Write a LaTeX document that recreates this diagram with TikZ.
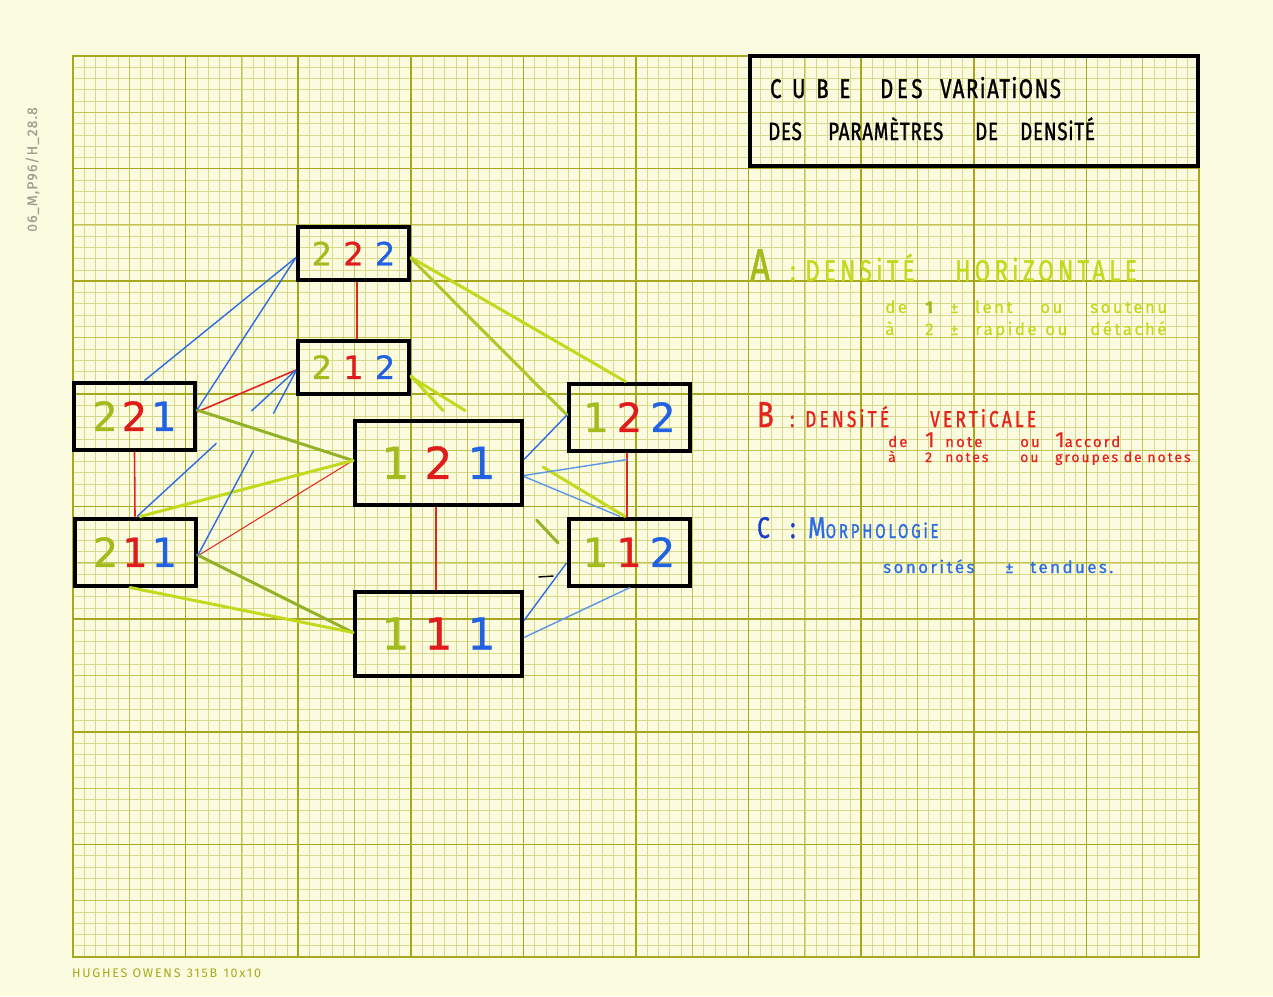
\documentclass[tikz,border=0pt]{standalone}
\usepackage{fontspec}
\usetikzlibrary{calc}
\setmainfont{Fira Sans}
\newfontfamily\handfont[FakeStretch=0.75,LetterSpace=14,FakeBold=1.2]{Fira Sans}
\newfontfamily\notefont[LetterSpace=14,FakeBold=0.5]{Fira Sans}
\newfontfamily\digitfont[FakeBold=0.8]{DejaVu Sans}
\newfontfamily\printfont[LetterSpace=14]{Fira Sans}

\definecolor{paper}{HTML}{FBFBE0}
\definecolor{gridminor}{HTML}{D9D98C}
\definecolor{gridmid}{HTML}{C4C454}
\definecolor{gridmajor}{HTML}{A8A820}
\definecolor{digA}{HTML}{A2BC1E}
\definecolor{digB}{HTML}{DF1B1B}
\definecolor{digC}{HTML}{2262E2}
\definecolor{penyellow}{HTML}{C3D91E}
\definecolor{penmid}{HTML}{AEC82A}
\definecolor{pengreen}{HTML}{94B228}
\definecolor{penred}{HTML}{E4231F}
\definecolor{penblue}{HTML}{2C6CE0}
\definecolor{penlight}{HTML}{5A96E8}
\definecolor{pendark}{HTML}{1B3FCC}
\definecolor{pencil}{HTML}{9E9E92}

% three coloured digits of one vertex
\newcommand{\triple}[4][0.3em]{{\color{digA}#2}\hspace{#1}{\color{digB}#3}\hspace{#1}{\color{digC}#4}}
% a word in a column of fixed width
\newcommand{\slot}[2]{\makebox[#1pt][l]{#2}}

\tikzset{
  cubebox/.style={draw=black, line width=4pt, inner sep=0pt},
  smallbox/.style={cubebox, minimum width=111pt, minimum height=53pt, font=\digitfont\fontsize{32}{32}\selectfont},
  midbox/.style={cubebox, minimum width=121pt, minimum height=67pt, font=\digitfont\fontsize{40}{40}\selectfont},
  bigbox/.style={cubebox, minimum width=167pt, minimum height=84pt, font=\digitfont\fontsize{44}{44}\selectfont},
  legend/.style={anchor=base west, inner sep=0pt},
  redline/.style={penred, line width=1.6pt},
  blueline/.style={penblue, line width=1.4pt},
  lightline/.style={penlight, line width=1.4pt},
  greenline/.style={pengreen, line width=3pt, line cap=round},
  midline/.style={penmid, line width=3pt, line cap=round},
  yellowline/.style={penyellow, line width=3pt, line cap=round},
}

\begin{document}
\begin{tikzpicture}[x=1pt,y=-1pt]
\useasboundingbox (0,0) rectangle (1273,996);
\fill[paper] (0,0) rectangle (1273,996);

% graph paper
\foreach \i in {0,...,100}
  \draw[gridminor, line width=0.6pt] ({73+11.26*\i},56) -- ({73+11.26*\i},957);
\foreach \j in {0,...,80}
  \draw[gridminor, line width=0.6pt] (73,{56+11.2625*\j}) -- (1199,{56+11.2625*\j});
\foreach \i in {5,15,...,95}
  \draw[gridmid, line width=1pt] ({73+11.26*\i},56) -- ({73+11.26*\i},957);
\foreach \j in {5,15,...,75}
  \draw[gridmid, line width=1pt] (73,{56+11.2625*\j}) -- (1199,{56+11.2625*\j});
\foreach \i in {0,10,...,100}
  \draw[gridmajor, line width=1.6pt] ({73+11.26*\i},56) -- ({73+11.26*\i},957);
\foreach \j in {0,10,...,80}
  \draw[gridmajor, line width=1.6pt] (73,{56+11.2625*\j}) -- (1199,{56+11.2625*\j});
\draw[gridmajor, line width=2pt] (73,56) rectangle (1199,957);

\node[legend, gridmajor, font=\printfont\fontsize{12.5}{13}\selectfont] (maker) at (72,977) {HUGHES OWENS\enspace 315B\enspace 10x10};
\node[legend, rotate=90, pencil, font=\notefont\fontsize{14}{14}\selectfont\addfontfeatures{LetterSpace=8}] (shelf) at (37,232) {06\_M,P96/H\_28.8};

% vertices of the cube
\node[smallbox] (n222) at (353.5,253.5) {\triple[0.35em]{2}{2}{2}};
\node[smallbox] (n212) at (353.5,367) {\triple[0.35em]{2}{1}{2}};
\node[midbox] (n221) at (134.5,416) {\triple[0.1em]{2}{2}{1}};
\node[midbox] (n211) at (135,552) {\triple[0.1em]{2}{1}{1}};
\node[midbox] (n122) at (629.5,417) {\triple[0.2em]{1}{2}{2}};
\node[midbox] (n112) at (629,552) {\triple[0.2em]{1}{1}{2}};
\node[bigbox] (n121) at (438.5,462.5) {\triple[0.34em]{1}{2}{1}};
\node[bigbox] (n111) at (438.5,633.5) {\triple[0.34em]{1}{1}{1}};

% red edges
\draw[redline] ([xshift=3.5]n222.south) -- ([xshift=3.5]n212.north);
\draw[redline] (n221.south) -- (n211.north);
\draw[redline] ([xshift=-2.5]n121.south) -- ([xshift=-2.5]n111.north);
\draw[redline, line width=2.4pt] ([xshift=-2.5]n122.south) -- ([xshift=-2]n112.north);
\draw[redline] ([yshift=4]n221.east) -- ([yshift=-3]n212.west);
\draw[redline, line width=1pt] ([yshift=-4]n211.east) -- ([yshift=2]n121.west);

% green edges
\draw[yellowline] ([yshift=-4]n222.east) -- ([xshift=-4]n122.north);
\draw[midline] ([yshift=-5]n222.east) -- ([yshift=2]n122.west);
\draw[yellowline] ([yshift=-9]n212.east) -- ([xshift=4.5,yshift=8]n121.north);
\draw[yellowline] ([yshift=-10]n212.east) -- ([xshift=26.5,yshift=8]n121.north);
\draw[greenline] ([yshift=6]n221.east) -- ([yshift=2]n121.west);
\draw[yellowline] ([xshift=5]n211.north) -- ([yshift=2]n121.west);
\draw[greenline] ([yshift=-3]n211.east) -- ([yshift=1]n111.west);
\draw[yellowline] ([xshift=-5]n211.south) -- ([yshift=1]n111.west);
\draw[yellowline] ($([yshift=7]n121.east)!0.19!([xshift=-4]n112.north)$) -- ([xshift=-4]n112.north);
\draw[greenline] ($(n121.south east)!0.3!(n112.west)$) -- ($(n121.south east)!0.8!(n112.west)$);

% blue edges
\draw[blueline] ([xshift=10]n221.north) -- ([yshift=-4]n222.west);
\draw[blueline] ([yshift=6]n221.east) -- ([yshift=-4]n222.west);
\draw[blueline] ([xshift=2]n211.north) -- ($([xshift=2]n211.north)!0.5!([yshift=-3]n212.west)$)
  ($([xshift=2]n211.north)!0.72!([yshift=-3]n212.west)$) -- ([yshift=-3]n212.west);
\draw[blueline] ([yshift=-4]n211.east) -- ($([yshift=-4]n211.east)!0.57!([yshift=-4]n212.west)$)
  ($([yshift=-4]n211.east)!0.77!([yshift=-4]n212.west)$) -- ([yshift=-4]n212.west);
\draw[blueline] ([yshift=2]n122.west) -- ([yshift=3]n121.east);
\draw[lightline] ([xshift=-2,yshift=-7]n122.south) -- ([yshift=-13]n121.east);
\draw[lightline] ([xshift=-9]n112.north) -- ([yshift=-14]n121.east);
\draw[blueline] ([yshift=-11]n112.west) -- ([yshift=13]n111.east);
\draw[lightline] ([xshift=1]n112.south) -- ([yshift=-4]n111.east);
\draw[black, line width=1.4pt] ([xshift=-28,yshift=-25]n112.west) -- ([xshift=-13,yshift=-24]n112.west);

% title
\draw[black, line width=4pt] (750,56) rectangle (1198,166);
\node[legend, font=\handfont\fontsize{27}{27}\selectfont] (title1) at (770,98)
  {\slot{110}{\addfontfeatures{LetterSpace=40}CUBE}\slot{60}{DES}{\addfontfeatures{LetterSpace=6}VARiATiONS}};
\node[legend, font=\handfont\fontsize{25}{25}\selectfont\addfontfeatures{LetterSpace=3}] (title2) at (768,140)
  {\slot{60}{DES}\slot{147}{PARAMÈTRES}\slot{45}{DE}DENSiTÉ};

% legend
\node[legend, penyellow, font=\handfont\fontsize{30}{30}\selectfont] (legA) at (750,281)
  {\slot{40}{\color{digA}\fontsize{46}{46}\selectfont A}\slot{15}{:}\slot{150}{DENSiTÉ}HORiZONTALE};
\node[legend, penyellow, font=\notefont\fontsize{17}{17}\selectfont] (legA1) at (885,313)
  {\slot{40}{de}\slot{25}{\color{digA}\bfseries 1}\slot{25}{±}\slot{65}{lent}\slot{50}{ou}soutenu};
\node[legend, penyellow, font=\notefont\fontsize{17}{17}\selectfont] (legA2) at (885,335)
  {\slot{40}{à}\slot{25}{2}\slot{25}{±}\slot{70}{rapide}\slot{45}{ou}détaché};
\node[legend, penred, font=\handfont\fontsize{23}{23}\selectfont] (legB) at (757,427)
  {\slot{33}{\fontsize{36}{36}\selectfont B}\slot{15}{:}\slot{125}{DENSiTÉ}VERTiCALE};
\node[legend, penred, font=\notefont\fontsize{15}{15}\selectfont] (legB1) at (888,447)
  {\slot{37}{de}\slot{20}{\fontsize{22}{22}\selectfont 1}\slot{75}{note}\slot{35}{ou}{\fontsize{22}{22}\selectfont 1}accord};
\node[legend, penred, font=\notefont\fontsize{14}{14}\selectfont] (legB2) at (888,462)
  {\slot{37}{à}\slot{20}{2}\slot{75}{notes}\slot{35}{ou}groupes de notes};
\node[legend, pendark, font=\handfont\fontsize{30}{30}\selectfont] (legC) at (757,538)
  {\slot{33}{C}\slot{18}{:}{\color{penblue}M\fontsize{20}{20}\selectfont ORPHOLOGiE}};
\node[legend, penblue, font=\notefont\fontsize{17}{17}\selectfont] (legC1) at (883,573)
  {\slot{122}{sonorités}\slot{25}{±}tendues.};
\end{tikzpicture}
\end{document}
